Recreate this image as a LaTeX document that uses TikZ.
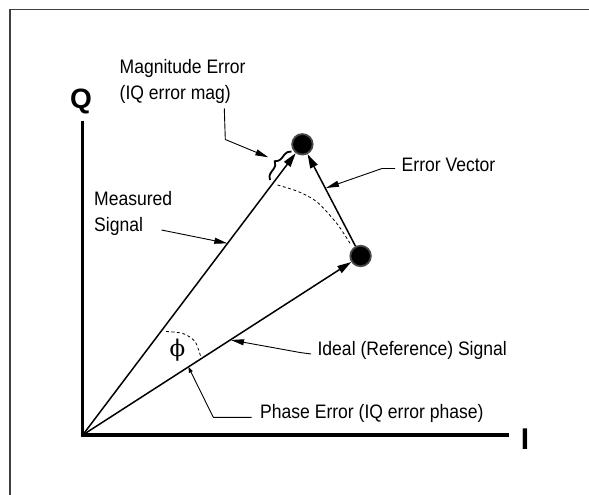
\documentclass[tikz,border=0pt]{standalone}
\usepackage{fontspec}
\setmainfont[FakeStretch=0.9]{Liberation Sans}
\newfontfamily\axisfont{Liberation Sans}
\newfontfamily\phifont{DejaVu Serif}
\usetikzlibrary{arrows.meta,decorations.pathreplacing}
\begin{document}
\begin{tikzpicture}[x=1pt,y=-1pt,
  lbl/.style={inner sep=0pt,anchor=base west,font=\fontsize{19.5}{22}\selectfont},
  axlbl/.style={inner sep=0pt,font=\axisfont\bfseries},
  dotnode/.style={circle,fill=black,draw=black!72,line width=1.8pt,minimum size=20.5pt,inner sep=0pt},
  vec/.style={line width=1.5pt,-{Triangle[length=14pt,width=8pt]}},
  lead/.style={line width=0.9pt,-{Triangle[length=13pt,width=6pt]}},
  smalllead/.style={line width=0.9pt,-{Triangle[length=6pt,width=4pt]}},
  axisline/.style={line width=3.5pt,line join=miter},
  arcline/.style={line width=0.8pt,dash pattern=on 3pt off 2.5pt}]
\useasboundingbox (0,0) rectangle (589,495);
% frame
\draw[line width=1.8pt,black!75] (10,500) -- (10,9.5) -- (600,9.5);
% axes
\coordinate (O) at (82.7,435);
\coordinate (qtop) at (82.7,120.7);
\coordinate (iend) at (509.3,435);
\draw[axisline] (qtop) -- (O) -- (iend);
\node[axlbl,font=\axisfont\bfseries\fontsize{28}{28}\selectfont] (qlab) at (81,101) {Q};
\node[axlbl,font=\axisfont\bfseries\fontsize{30}{30}\selectfont] (ilab) at (525,439.5) {I};
% dots
\node[dotnode] (mdot) at (302.4,144.3) {};
\node[dotnode] (idot) at (360.6,256) {};
% vectors
\draw[vec] (O) -- (mdot);
\draw[vec] (O) -- (idot);
\draw[vec] (idot) -- (mdot);
% dashed arcs
\draw[arcline] plot[smooth] coordinates {(277.5,185) (298,191.5) (316.7,201.7) (336.7,223.3) (350,243.3)};
\draw[arcline] plot[smooth] coordinates {(166,331.5) (183,333.5) (195,341.5) (200.5,356)};
% phi
\node[inner sep=0pt,font=\phifont\fontsize{23}{23}\selectfont] (phi) at (177.5,350.5) {ϕ};
% brace
\draw[decorate,decoration={brace,amplitude=7.5pt},line width=1.8pt] (270,180) -- (291.5,151.5);
% labels
\node[lbl] (mag1) at (119.5,73.3) {Magnitude Error};
\node[lbl] (mag2) at (119.5,99.8) {(IQ error mag)};
\node[lbl] (meas1) at (94,205) {Measured};
\node[lbl] (meas2) at (94,231.7) {Signal};
\node[lbl] (errv) at (401.5,171.5) {Error Vector};
\node[lbl] (ideal) at (317.4,355) {Ideal (Reference) Signal};
\node[lbl] (phase) at (260,418.3) {Phase Error (IQ error phase)};
% leader points
\coordinate (magA) at (224.3,108.5);
\coordinate (magB) at (225.3,139.5);
\coordinate (magT) at (268.3,157.3);
\coordinate (measA) at (161.5,230);
\coordinate (measT) at (227.3,243.3);
\coordinate (errA) at (395,168.5);
\coordinate (errB) at (382,168.5);
\coordinate (errT) at (326,188);
\coordinate (idA) at (311,354);
\coordinate (idB) at (300,352.5);
\coordinate (idT) at (231,340);
\coordinate (phA) at (251.7,417.3);
\coordinate (phB) at (213.3,417.3);
\coordinate (phT) at (188.3,366.7);
% leaders
\draw[lead] (magA) -- (magB) -- (magT);
\draw[lead] (measA) -- (measT);
\draw[lead] (errA) -- (errB) -- (errT);
\draw[lead] (idA) -- (idB) -- (idT);
\draw[smalllead] (phA) -- (phB) -- (phT);
\end{tikzpicture}
\end{document}
